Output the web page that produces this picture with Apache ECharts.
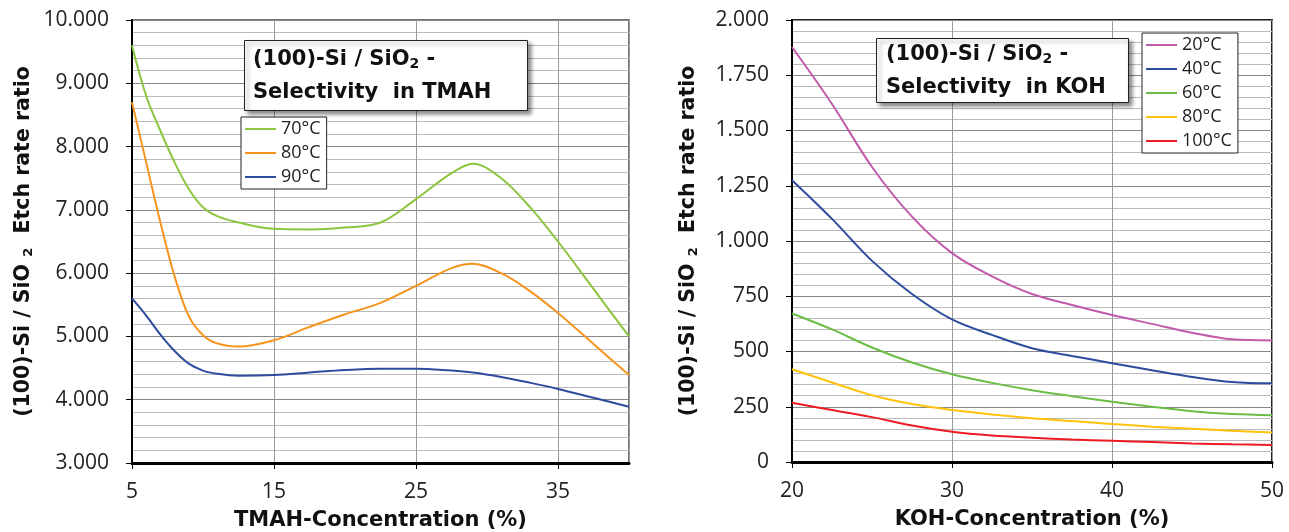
<!DOCTYPE html>
<html>
<head>
<meta charset="utf-8">
<script src="https://cdn.jsdelivr.net/npm/echarts@6/dist/echarts.min.js"></script>
<style>
  html, body { margin: 0; padding: 0; background: #fff; }
  #main { width: 1289px; height: 532px; }
</style>
</head>
<body>
<div id="main"></div>
<script>
// TMAH (left chart) - concentration in %
var tmahX = [5, 6, 7, 8, 9, 10, 11, 12.5, 15, 17.5, 20, 22.5, 25, 27.5, 29, 31, 33, 35, 37.5, 40];
var tmah70 = [9.6, 8.8, 8.25, 7.75, 7.33, 7.04, 6.9, 6.8, 6.7, 6.69, 6.72, 6.8, 7.17, 7.58, 7.73, 7.5, 7.05, 6.5, 5.75, 5.0];
var tmah80 = [8.7, 7.75, 6.8, 5.95, 5.32, 5.02, 4.89, 4.84, 4.94, 5.15, 5.35, 5.53, 5.8, 6.08, 6.15, 6.0, 5.72, 5.37, 4.88, 4.39];
var tmah90 = [5.6, 5.33, 5.03, 4.77, 4.57, 4.46, 4.41, 4.38, 4.39, 4.43, 4.47, 4.49, 4.49, 4.46, 4.43, 4.36, 4.27, 4.17, 4.03, 3.89];

// KOH (right chart)
var kohX = [20, 22.5, 25, 27.5, 30, 32.5, 35, 37.5, 40, 42.5, 45, 47.5, 50];
var koh20 = [1878, 1620, 1335, 1110, 945, 840, 760, 710, 665, 625, 585, 555, 550];
var koh40 = [1275, 1100, 910, 760, 645, 575, 515, 480, 447, 415, 385, 362, 356];
var koh60 = [672, 600, 518, 450, 397, 358, 325, 298, 273, 250, 230, 217, 212];
var koh80 = [420, 360, 302, 262, 235, 215, 198, 185, 172, 160, 150, 141, 133];
var koh100 = [268, 235, 203, 165, 137, 120, 110, 102, 96, 90, 84, 80, 77];

var tmahNames = ['70°C', '80°C', '90°C'];
// trailing space keeps the right legend apart from the left "80°C"
var kohNames = ['20°C', '40°C', '60°C', '80°C ', '100°C'];

function pairs(xs, ys) {
    return xs.map(function (x, i) { return [x, ys[i]]; });
}

var font = 'Open Sans';
var boldFont = 'DejaVu Sans';
var chart = echarts.init(document.getElementById('main'));

function titleBox(left, top, name, pad) {
    return {
        left: left, top: top,
        text: '{t|(100)-Si / SiO}{s|2}{t| -}\n{t|Selectivity  in ' + name + '}',
        padding: pad,
        backgroundColor: '#fff',
        borderColor: '#222',
        borderWidth: 1,
        shadowBlur: 4,
        shadowColor: 'rgba(0,0,0,0.45)',
        shadowOffsetX: 3,
        shadowOffsetY: 3,
        textStyle: {
            rich: {
                t: { fontFamily: boldFont, fontSize: 21, fontWeight: 'bold', color: '#111', lineHeight: 33 },
                s: { fontFamily: boldFont, fontSize: 14, fontWeight: 'bold', color: '#111', lineHeight: 33, padding: [9, 0, 0, 0] }
            }
        }
    };
}

var yName = '{n|(100)-Si / SiO }{s|2}{n|  Etch rate ratio}';
var nameRich = {
    n: { fontFamily: boldFont, fontSize: 20.5, fontWeight: 'bold', color: '#111' },
    s: { fontFamily: boldFont, fontSize: 13, fontWeight: 'bold', color: '#111', padding: [10, 0, 0, 0] }
};

function xAxisCfg(idx, min, max, name, showMax) {
    return {
        gridIndex: idx, type: 'value', min: min, max: max, interval: 10,
        name: name, nameLocation: 'middle', nameGap: 47,
        nameTextStyle: { fontFamily: boldFont, fontSize: 21, fontWeight: 'bold', color: '#111' },
        axisLine: { show: true, onZero: false, lineStyle: { color: '#000', width: 3 } },
        axisTick: { show: true, inside: false, length: 6, lineStyle: { color: '#000', width: 1 } },
        axisLabel: { fontFamily: font, fontSize: 21, color: '#222', margin: 19, showMaxLabel: showMax },
        splitLine: { show: true, lineStyle: { color: '#999', width: 1 } }
    };
}

function yAxisCfg(idx, min, max, interval, gap, fmt) {
    return {
        gridIndex: idx, type: 'value', min: min, max: max, interval: interval,
        name: yName, nameLocation: 'middle', nameGap: gap,
        nameTextStyle: { rich: nameRich },
        axisLine: { show: true, lineStyle: { color: '#000', width: 2 } },
        axisTick: { show: true, inside: false, length: 6, lineStyle: { color: '#000', width: 1 } },
        axisLabel: { fontFamily: font, fontSize: 21, color: '#222', margin: 23, formatter: fmt },
        splitLine: { show: true, lineStyle: { color: '#888', width: 1 } },
        minorTick: { show: false, splitNumber: 5 },
        minorSplitLine: { show: true, lineStyle: { color: '#bbb', width: 1 } }
    };
}

function lineSeries(name, xi, data, color) {
    return {
        name: name, type: 'line', xAxisIndex: xi, yAxisIndex: xi,
        data: data, smooth: 0.35, symbol: 'none',
        lineStyle: { color: color, width: 2 }, itemStyle: { color: color },
        z: 5
    };
}

function legendCfg(names, left, top) {
    return {
        data: names, orient: 'vertical', left: left, top: top,
        backgroundColor: '#fff', borderColor: '#222', borderWidth: 1,
        padding: [2, 6, 2, 4], itemGap: 4, itemWidth: 31, itemHeight: 2,
        icon: 'rect',
        textStyle: { fontFamily: font, fontSize: 18, color: '#222', lineHeight: 20 }
    };
}

chart.setOption({
    backgroundColor: '#fff',
    animation: false,
    title: [
        titleBox(244, 35, 'TMAH', [8, 37, 8, 9]),
        titleBox(876, 33, 'KOH', [5, 23, 5, 10])
    ],
    legend: [
        legendCfg(tmahNames, 241, 117),
        legendCfg(kohNames, 1142, 33)
    ],
    grid: [
        { left: 132, top: 20, width: 497, height: 443, outerBoundsMode: 'none', show: true, borderColor: '#444', borderWidth: 1.5, backgroundColor: '#fff' },
        { left: 792, top: 20, width: 480, height: 442, outerBoundsMode: 'none', show: true, borderColor: '#222', borderWidth: 2, backgroundColor: '#fff' }
    ],
    xAxis: [
        xAxisCfg(0, 5, 40, 'TMAH-Concentration (%)', false),
        xAxisCfg(1, 20, 50, 'KOH-Concentration (%)', true)
    ],
    yAxis: [
        yAxisCfg(0, 3, 10, 1, 97, function (v) { return v.toFixed(3); }),
        yAxisCfg(1, 0, 2000, 250, 92, function (v) {
            return v >= 1000 ? Math.floor(v / 1000) + '.' + String(v % 1000).padStart(3, '0') : String(v);
        })
    ],
    series: [
        lineSeries('70°C', 0, pairs(tmahX, tmah70), '#8cc63f'),
        lineSeries('80°C', 0, pairs(tmahX, tmah80), '#f7941d'),
        lineSeries('90°C', 0, pairs(tmahX, tmah90), '#2e4c9e'),
        lineSeries('20°C', 1, pairs(kohX, koh20), '#c15bab'),
        lineSeries('40°C', 1, pairs(kohX, koh40), '#2e4c9e'),
        lineSeries('60°C', 1, pairs(kohX, koh60), '#6cbd45'),
        lineSeries('80°C ', 1, pairs(kohX, koh80), '#ffc20e'),
        lineSeries('100°C', 1, pairs(kohX, koh100), '#ed1c24')
    ]
});
</script>
</body>
</html>
